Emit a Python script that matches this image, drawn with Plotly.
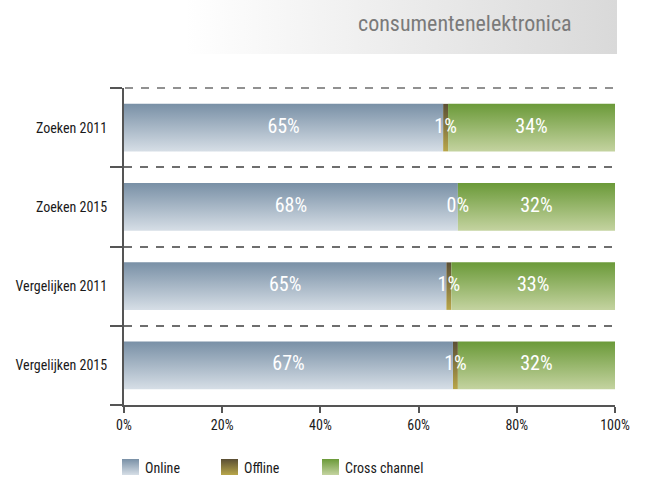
import numpy as np
import plotly.graph_objects as go

# Data
categories = ["Zoeken 2011", "Zoeken 2015", "Vergelijken 2011", "Vergelijken 2015"]
series_names = ["Online", "Offline", "Cross channel"]
online = [65, 68, 65, 67]
offline = [1, 0, 1, 1]
cross_channel = [34, 32, 33, 32]
x_ticks = [0, 20, 40, 60, 80, 100]
x_tick_labels = ["0%", "20%", "40%", "60%", "80%", "100%"]
header_title = "consumentenelektronica"

# Styling
FONT = "Liberation Sans Narrow, Roboto Condensed, DejaVu Sans Condensed, Roboto, sans-serif"
W, H = 649, 478
PLOT_L, PLOT_R, PLOT_T, PLOT_B = 124, 615, 88, 405  # plot area edges (px)
gradients = {
    "Online": ("#7990a6", "#d6dee6"),
    "Offline": ("#5a4e34", "#b8a64a"),
    "Cross channel": ("#6b9a39", "#c4d3a0"),
}
half = 0.3  # half bar thickness in category units
legend_left = [122, 221, 322]  # swatch left edges (px) for the legend row
swatch_w, swatch_top, swatch_bottom = 17, 459, 475
grid_col, grid_dash = "#6e6e6e", "8px,8px"

values = np.array([online, offline, cross_channel], dtype=float)
shares = values / values.sum(axis=0) * 100.0  # 100% stacked
right = np.cumsum(shares, axis=0)
left = right - shares

fig = go.Figure()

# Stacked bars as gradient-filled rectangles on the data axes
for s, name in enumerate(series_names):
    top, bottom = gradients[name]
    for i in range(len(categories)):
        x0, x1 = left[s, i], right[s, i]
        fig.add_trace(go.Scatter(
            x=[x0, x1, x1, x0, x0],
            y=[i - half, i - half, i + half, i + half, i - half],
            mode="none", fill="toself",
            fillgradient=dict(type="vertical",
                              colorscale=[[0, top], [1, bottom]],
                              start=i - half, stop=i + half),
            name=name, showlegend=False, hoverinfo="skip",
        ))

# Value labels centred on each segment
raw = [online, offline, cross_channel]
for s, name in enumerate(series_names):
    fig.add_trace(go.Scatter(
        x=(left[s] + right[s]) / 2, y=list(range(len(categories))),
        mode="text", text=[f"{v}%" for v in raw[s]],
        textfont=dict(family=FONT, size=20, color="white"),
        showlegend=False, hoverinfo="skip",
    ))

# Page-level overlay axes in pixel units for header band and legend
px = dict(xaxis="x2", yaxis="y2", mode="none", fill="toself",
          showlegend=False, hoverinfo="skip")
fig.add_trace(go.Scatter(
    x=[186, 617, 617, 186, 186], y=[0, 0, 54, 54, 0],
    fillgradient=dict(type="horizontal",
                      colorscale=[[0, "#ffffff"], [1, "#d9d9d9"]],
                      start=186, stop=617),
    **px,
))

annotations = [dict(
    text=header_title, xref="x2", yref="y2",
    x=574, y=23, xanchor="right", yanchor="middle",
    showarrow=False, font=dict(family=FONT, size=22, color="#7a7a7a"),
)]

for s, name in enumerate(series_names):
    top, bottom = gradients[name]
    x0 = legend_left[s]
    x1 = x0 + swatch_w
    fig.add_trace(go.Scatter(
        x=[x0, x1, x1, x0, x0],
        y=[swatch_top, swatch_top, swatch_bottom, swatch_bottom, swatch_top],
        fillgradient=dict(type="vertical", colorscale=[[0, top], [1, bottom]],
                          start=swatch_top, stop=swatch_bottom),
        **px,
    ))
    annotations.append(dict(
        text=name, xref="x2", yref="y2", x=x1 + 4, y=(swatch_top + swatch_bottom) / 2 + 1,
        xanchor="left", yanchor="middle", showarrow=False,
        font=dict(family=FONT, size=14, color="#1a1a1a"),
    ))

axis_col = "#555555"
fig.update_layout(
    width=W, height=H,
    margin=dict(l=0, r=0, t=0, b=0, autoexpand=False),
    paper_bgcolor="white", plot_bgcolor="rgba(0,0,0,0)",
    font=dict(family=FONT, size=14, color="#1a1a1a"),
    showlegend=False,
    xaxis=dict(
        domain=[PLOT_L / W, PLOT_R / W], range=[0, 100],
        tickvals=x_ticks, ticktext=x_tick_labels,
        ticks="outside", ticklen=6, tickwidth=2, tickcolor=axis_col,
        showline=True, linecolor=axis_col, linewidth=2,
        showgrid=False, zeroline=False, fixedrange=True,
        tickfont=dict(size=14, color="#1a1a1a"),
    ),
    yaxis=dict(
        domain=[(H - PLOT_B) / H, (H - PLOT_T) / H], range=[3.5, -0.5],
        tickvals=list(range(len(categories))), ticktext=categories,
        ticks="outside", ticklen=12, tickcolor="rgba(0,0,0,0)",
        showline=True, linecolor=axis_col, linewidth=2,
        showgrid=False, zeroline=False, fixedrange=True,
        tickfont=dict(size=14, color="#1a1a1a"),
        minor=dict(
            tickvals=[-0.5, 0.5, 1.5, 2.5, 3.5],
            ticks="outside", ticklen=12, tickwidth=2, tickcolor=axis_col,
            showgrid=True, gridcolor=grid_col, gridwidth=1.5,
            griddash=grid_dash,
        ),
    ),
    xaxis2=dict(domain=[0, 1], range=[0, W], visible=False, fixedrange=True,
                anchor="y2"),
    yaxis2=dict(domain=[0, 1], range=[H, 0], visible=False, fixedrange=True,
                anchor="x2"),
    annotations=annotations,
    # dashed boundary line along the top edge of the category axis
    shapes=[dict(type="line", xref="paper", yref="paper",
                 x0=(PLOT_L + 1) / W, x1=PLOT_R / W,
                 y0=1 - PLOT_T / H, y1=1 - PLOT_T / H, layer="above",
                 line=dict(color=grid_col, width=1.5, dash=grid_dash))],
)

fig.write_html("out.html")
